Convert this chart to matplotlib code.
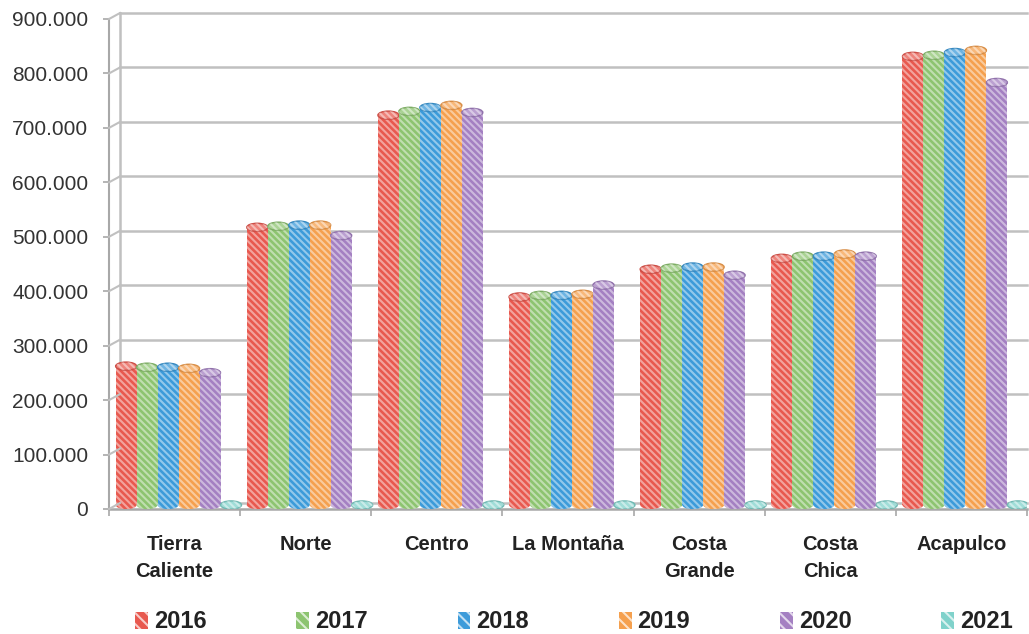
import matplotlib
matplotlib.use("Agg")
import matplotlib.pyplot as plt
from matplotlib.patches import Ellipse, Patch
from matplotlib.transforms import ScaledTranslation, blended_transform_factory
import matplotlib.colors as mcolors
import numpy as np

plt.rcParams['font.family'] = ['Liberation Sans', 'DejaVu Sans']
plt.rcParams['hatch.linewidth'] = 1.5

categories = ["Tierra\nCaliente", "Norte", "Centro", "La Montaña", "Costa\nGrande", "Costa\nChica", "Acapulco"]
years = ["2016", "2017", "2018", "2019", "2020", "2021"]
v2016 = [255000, 510000, 716000, 382000, 433000, 453000, 824000]
v2017 = [253000, 512000, 723000, 385000, 435000, 457000, 826000]
v2018 = [253000, 514000, 730000, 385000, 437000, 457000, 831000]
v2019 = [251000, 514000, 734000, 387000, 437000, 461000, 835000]
v2020 = [243000, 495000, 721000, 404000, 422000, 457000, 776000]
v2021 = [0, 0, 0, 0, 0, 0, 0]
series = [v2016, v2017, v2018, v2019, v2020, v2021]
colors = ["#E8594F", "#8DC470", "#3C9BDA", "#F5A04E", "#A480C2", "#80D2CB"]
yticks = [0, 100000, 200000, 300000, 400000, 500000, 600000, 700000, 800000, 900000]

W, H = 1029, 634
fig = plt.figure(figsize=(W / 100, H / 100), dpi=100)
ax = fig.add_axes([109 / W, 1 - 509 / H, 918 / W, 490 / H])
ax.set_xlim(0, len(categories))
ax.set_ylim(0, 900000)

px = 1 / 100.0  # one pixel in inches
grid_col = "#C0C0C0"
axis_col = "#A8A8A8"

# back-wall grid lines (offset up/right for the 3D look)
back = blended_transform_factory(ax.transAxes, ax.transData) + ScaledTranslation(0, 6 * px, fig.dpi_scale_trans)
for v in yticks:
    ax.plot([11 / 918, 1.0], [v, v], color=grid_col, lw=1.8, transform=back, zorder=1, clip_on=False)
# left wall back edge
ax.plot([11 / 918, 11 / 918], [0, 900000], color=grid_col, lw=1.8, transform=back, zorder=1, clip_on=False)
# diagonal connectors from front ticks to back wall
yax = blended_transform_factory(ax.transAxes, ax.transData)
for v in yticks:
    x0, y_front = yax.transform((0, v))
    x1, y_back = back.transform((11 / 918, v))
    fig.add_artist(plt.Line2D([x0 / W, x1 / W], [y_front / H, y_back / H], color=grid_col, lw=1.5))

# cylinders
n = len(series)
w = 0.16
shift = ax.transData + ScaledTranslation(4 * px, 4 * px, fig.dpi_scale_trans)
eh = 15000
x = np.arange(len(categories)) + 0.5
for k, (vals, col) in enumerate(zip(series, colors)):
    xs = x + (k - (n - 1) / 2) * w
    rgb = np.array(mcolors.to_rgb(col))
    lighter = tuple(0.75 * rgb + 0.25) + (1,)
    darker = tuple(0.88 * rgb) + (1,)
    for xi, v in zip(xs, vals):
        z = 3 + k * 0.01
        ax.add_patch(Ellipse((xi, 0), w, eh, facecolor=col, edgecolor='none', transform=shift, zorder=z))
        ax.add_patch(Ellipse((xi, 0), w, eh, facecolor='none', edgecolor=(1, 1, 1, 0.45), lw=0,
                             hatch='\\\\\\\\\\', transform=shift, zorder=z))
        ax.bar(xi, v, width=w, color=col, edgecolor='none', transform=shift, zorder=z)
        ax.bar(xi, v, width=w, facecolor='none', edgecolor=(1, 1, 1, 0.45), hatch='\\\\\\\\\\',
               linewidth=0, transform=shift, zorder=z + 0.001)
        ax.add_patch(Ellipse((xi, v), w, eh, facecolor=lighter, edgecolor=darker, lw=1.0,
                             transform=shift, zorder=z + 0.002))
        ax.add_patch(Ellipse((xi, v), w, eh, facecolor='none', edgecolor=(1, 1, 1, 0.45), lw=0,
                             hatch='\\\\\\\\\\', transform=shift, zorder=z + 0.003))

# axes styling
for s in ["top", "right"]:
    ax.spines[s].set_visible(False)
ax.spines["left"].set_color(axis_col)
ax.spines["left"].set_linewidth(1.5)
ax.spines["bottom"].set_color(axis_col)
ax.spines["bottom"].set_linewidth(1.8)
ax.set_yticks(yticks)
ax.set_yticklabels([f"{v:,}".replace(",", ".") for v in yticks])
ax.tick_params(axis='y', length=4, width=1.2, color=axis_col, labelsize=15, labelcolor="#333333", pad=11)
ax.set_xticks(x)
ax.set_xticklabels(categories, fontweight='bold', fontsize=14.5, color="#222222", linespacing=1.48)
ax.tick_params(axis='x', length=0, pad=19)
ax.set_xticks(np.arange(len(categories) + 1), minor=True)
ax.tick_params(axis='x', which='minor', length=5, width=1.2, color=axis_col)
for lbl in ax.get_xticklabels():
    lbl.set_verticalalignment('top')

handles = [Patch(facecolor=c, edgecolor=(1, 1, 1, 0.7), hatch='\\\\\\', linewidth=0) for c in colors]
leg = fig.legend(handles, years, loc='center', bbox_to_anchor=(574 / W, 1 - 622 / H), ncol=6, frameon=False,
                 handlelength=0.55, handleheight=0.75, handletextpad=0.25, columnspacing=3.8,
                 prop={'weight': 'bold', 'size': 17})
for t in leg.get_texts():
    t.set_color("#222222")

fig.savefig("out.png", dpi=100, facecolor='white')
